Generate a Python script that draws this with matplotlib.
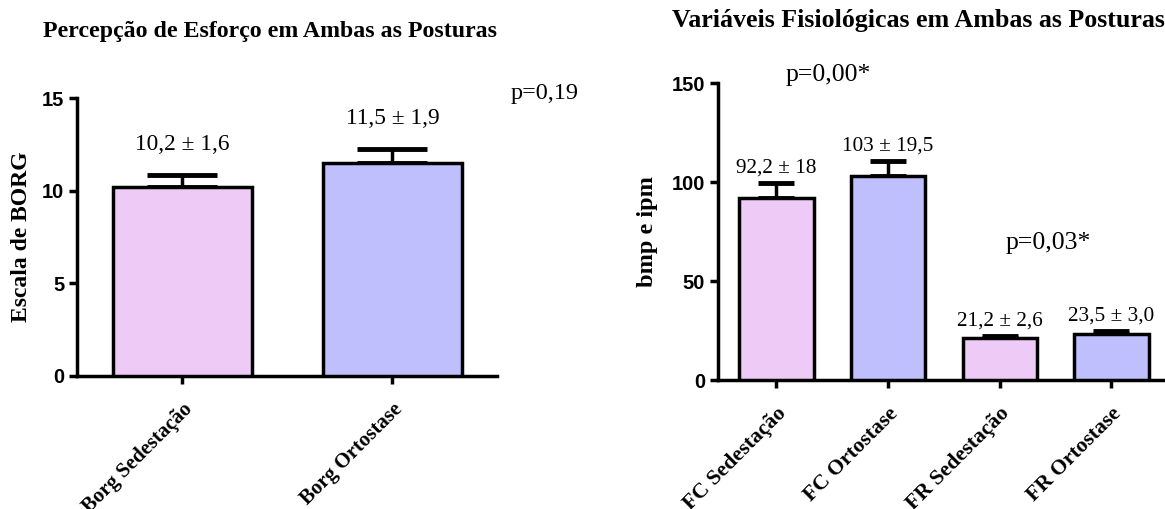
import matplotlib
matplotlib.use("Agg")
import matplotlib.pyplot as plt

# dados
borg_labels = ["Borg Sedestação", "Borg Ortostase"]
borg_mean = [10.2, 11.5]
borg_err = [0.65, 0.78]
borg_text = ["10,2 ± 1,6", "11,5 ± 1,9"]

fis_labels = ["FC Sedestação", "FC Ortostase", "FR Sedestação", "FR Ortostase"]
fis_mean = [92.2, 103.0, 21.2, 23.5]
fis_err = [7.3, 7.9, 1.1, 1.2]
fis_text = ["92,2 ± 18", "103 ± 19,5", "21,2 ± 2,6", "23,5 ± 3,0"]

pink = "#EECBF6"
blue = "#BFBFFD"
serif = "Liberation Serif"
sans = "Liberation Sans"
lw = 2.5


def style_axes(ax, ymax, step):
    for s in ["top", "right"]:
        ax.spines[s].set_visible(False)
    for s in ["left", "bottom"]:
        ax.spines[s].set_linewidth(lw)
    ax.set_ylim(0, ymax)
    ax.set_yticks(range(0, ymax + 1, step))
    ax.tick_params(axis="both", width=lw, length=6, direction="out")
    ax.tick_params(axis="x", pad=11)
    for t in ax.get_yticklabels():
        t.set_fontfamily(sans)
        t.set_fontweight("bold")
        t.set_fontsize(14.5)


def bars(ax, means, errs, labels, texts, colors, capsize, dy, fs_tick, fs_txt):
    x = list(range(len(means)))
    ax.bar(x, means, width=0.665, color=colors, edgecolor="black", linewidth=lw, zorder=3)
    ax.errorbar(x, means, yerr=[[0] * len(errs), errs], fmt="none", ecolor="black",
                elinewidth=lw, capsize=capsize, capthick=lw * 1.4, zorder=2)
    ax.set_xticks(x)
    ax.set_xticklabels(labels, rotation=45, ha="right", rotation_mode="anchor",
                       fontfamily=serif, fontweight="bold", fontsize=fs_tick)
    for xi, m, e, t in zip(x, means, errs, texts):
        ax.text(xi, m + e + dy, t, ha="center", va="center", fontfamily=serif, fontsize=fs_txt)


fig = plt.figure(figsize=(11.65, 5.09), dpi=100)

ax1 = fig.add_axes([0.0664, 0.2613, 0.3605, 0.5456])
bars(ax1, borg_mean, borg_err, borg_labels, borg_text, [pink, blue], 25, 1.65, 15, 16.8)
ax1.set_xlim(-0.5, 1.5)
style_axes(ax1, 15, 5)
ax1.set_ylabel("Escala de BORG", fontfamily=serif, fontweight="bold", fontsize=17)
ax1.yaxis.set_label_coords(-0.108, 0.5)
ax1.text(1.727, 15.27, "p=0,19", ha="center", va="center", fontfamily=serif, fontsize=17.5,
         clip_on=False)
fig.text(0.2318, 0.9377, "Percepção de Esforço em Ambas as Posturas", ha="center", va="center",
         fontfamily=serif, fontweight="bold", fontsize=17.2)

ax2 = fig.add_axes([0.6166, 0.2534, 0.3834, 0.5829])
bars(ax2, fis_mean, fis_err, fis_labels, fis_text, [pink, blue, pink, blue], 13, 7.5, 15.7, 15.3)
ax2.set_xlim(-0.52, 3.48)
style_axes(ax2, 150, 50)
ax2.set_ylabel("bmp e ipm", fontfamily=serif, fontweight="bold", fontsize=17.5)
ax2.yaxis.set_label_coords(-0.134, 0.5)
ax2.text(0.465, 154.2, "p=0,00*", ha="center", va="center", fontfamily=serif, fontsize=18.5,
         clip_on=False)
ax2.text(2.436, 69.1, "p=0,03*", ha="center", va="center", fontfamily=serif, fontsize=18.5)
fig.text(0.7882, 0.9607, "Variáveis Fisiológicas em Ambas as Posturas", ha="center", va="center",
         fontfamily=serif, fontweight="bold", fontsize=18.7)

fig.savefig("out.png", dpi=100)
